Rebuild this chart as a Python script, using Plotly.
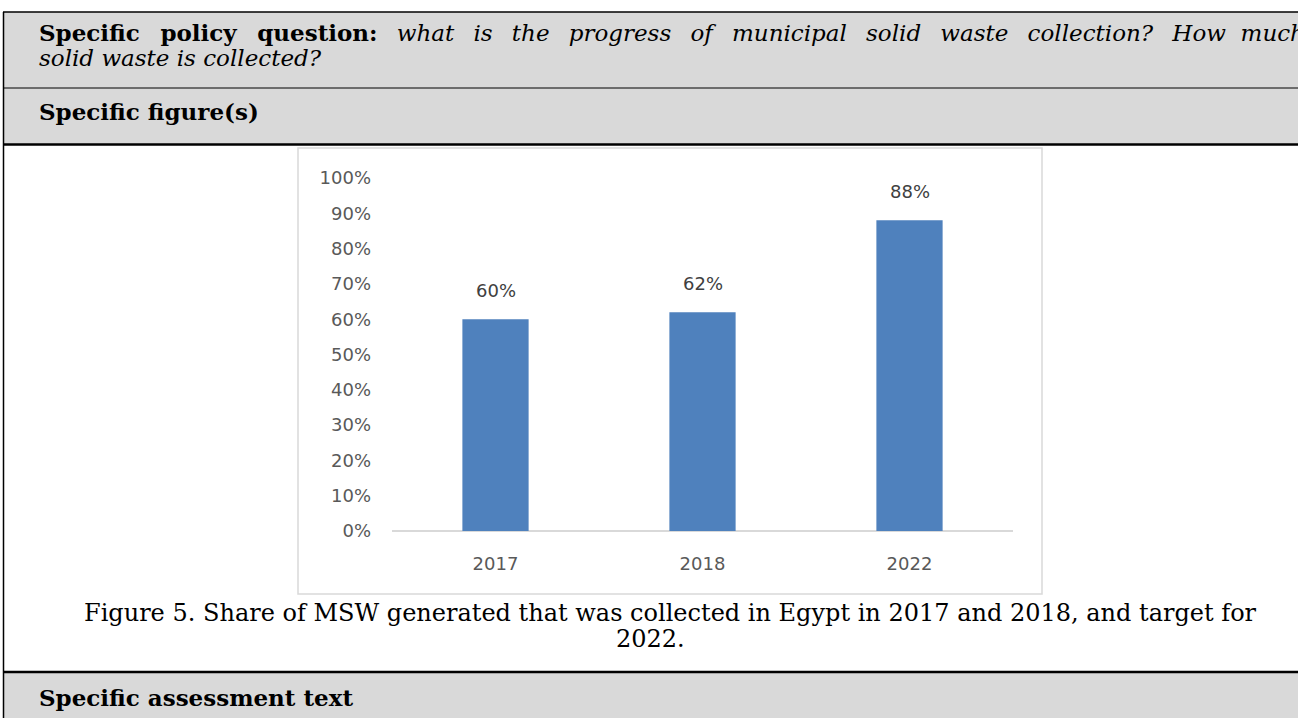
import plotly.graph_objects as go

# ---- data ----
years = ["2017", "2018", "2022"]
shares = [0.60, 0.62, 0.88]
labels = ["60%", "62%", "88%"]
y_ticks = [0, 0.1, 0.2, 0.3, 0.4, 0.5, 0.6, 0.7, 0.8, 0.9, 1.0]
y_tick_text = ["0%", "10%", "20%", "30%", "40%", "50%", "60%", "70%", "80%", "90%", "100%"]

question_bold = "Specific policy question:"
question_line1 = "what is the progress of municipal solid waste collection? How much"
question_line2 = "solid waste is collected?"
figure_header = "Specific figure(s)"
caption1 = "Figure 5. Share of MSW generated that was collected in Egypt in 2017 and 2018, and target for"
caption2 = "2022."
assessment_header = "Specific assessment text"

W, H = 1298, 718


def px(x):
    return x / W


def py(y):
    return 1 - y / H


fig = go.Figure()
fig.add_trace(go.Bar(
    x=years, y=shares, marker=dict(color="#4f81bd", line=dict(width=0)),
    hoverinfo="skip", showlegend=False,
))

serif = "DejaVu Serif"
sans = "DejaVu Sans"
NB = "\u00a0"
TH = "\u2009"

shapes = []
# gray header rows
shapes.append(dict(type="rect", xref="paper", yref="paper", x0=px(3), x1=px(1300),
                   y0=py(144), y1=py(12), fillcolor="#d9d9d9", line=dict(width=0), layer="below"))
shapes.append(dict(type="rect", xref="paper", yref="paper", x0=px(3), x1=px(1300),
                   y0=py(720), y1=py(672), fillcolor="#d9d9d9", line=dict(width=0), layer="below"))
# chart box
shapes.append(dict(type="rect", xref="paper", yref="paper", x0=px(298), x1=px(1042),
                   y0=py(594), y1=py(148), fillcolor="white", line=dict(color="#d9d9d9", width=1.5),
                   layer="below"))
# table lines
shapes.append(dict(type="line", xref="paper", yref="paper", x0=px(3), x1=px(1300), y0=py(12), y1=py(12),
                   line=dict(color="black", width=1.5)))
shapes.append(dict(type="line", xref="paper", yref="paper", x0=px(3), x1=px(1300), y0=py(88), y1=py(88),
                   line=dict(color="black", width=1)))
shapes.append(dict(type="line", xref="paper", yref="paper", x0=px(3), x1=px(1300), y0=py(144.5), y1=py(144.5),
                   line=dict(color="black", width=2.5)))
shapes.append(dict(type="line", xref="paper", yref="paper", x0=px(3), x1=px(1300), y0=py(672), y1=py(672),
                   line=dict(color="black", width=2.5)))
shapes.append(dict(type="line", xref="paper", yref="paper", x0=px(3.5), x1=px(3.5), y0=py(12), y1=py(720),
                   line=dict(color="black", width=1.5)))

annotations = []


def text(t, x, y, size=23, xanchor="left", family=serif, color="black"):
    annotations.append(dict(text=t, x=px(x), y=py(y), xref="paper", yref="paper", xanchor=xanchor,
                            yanchor="middle", showarrow=False, font=dict(family=family, size=size, color=color)))


gap = " " + NB + TH
bold_j = gap.join(question_bold.split(" "))
line1_words = question_line1.split(" ")
line1_j = gap.join(line1_words[:-1]) + " " + NB + line1_words[-1]
text(f"<b>{bold_j}</b>{gap}<i>{line1_j}</i>", 37, 33)
text(f"<i>{question_line2}</i>", 37, 58)
text(f"<b>{figure_header}</b>", 37, 112)
text(caption1, 671, 613, size=24, xanchor="center")
text(caption2, 650, 639, size=24, xanchor="center")
text(f"<b>{assessment_header}</b>", 37, 697)

# data labels above bars (category axis -> position by category index)
for i, (v, lab) in enumerate(zip(shares, labels)):
    annotations.append(dict(text=lab, x=i, y=v, xref="x", yref="y", yanchor="bottom", yshift=16,
                            showarrow=False, font=dict(family=sans, size=18, color="#404040")))

fig.update_layout(
    width=W, height=H, autosize=False, margin=dict(l=0, r=0, t=0, b=0, pad=0),
    paper_bgcolor="white", plot_bgcolor="rgba(0,0,0,0)",
    shapes=shapes, annotations=annotations, bargap=0.68,
    xaxis=dict(type="category", domain=[px(392), px(1013)], range=[-0.5, len(years) - 0.5],
               showgrid=False, showline=False, zeroline=False,
               automargin=False, tickfont=dict(family=sans, size=18, color="#595959"), ticks="",
               ticklabelstandoff=20),
    yaxis=dict(domain=[py(531), py(178)], range=[0, 1], tickvals=y_ticks, ticktext=y_tick_text,
               showgrid=False, zeroline=True, zerolinecolor="#d9d9d9", zerolinewidth=1.5, showline=False,
               automargin=False, tickfont=dict(family=sans, size=18, color="#595959"), ticks="",
               ticklabelstandoff=20),
)

fig.write_html("out.html", config={"displayModeBar": False},
               post_script="document.body.style.margin='0';document.body.style.overflow='hidden';")
